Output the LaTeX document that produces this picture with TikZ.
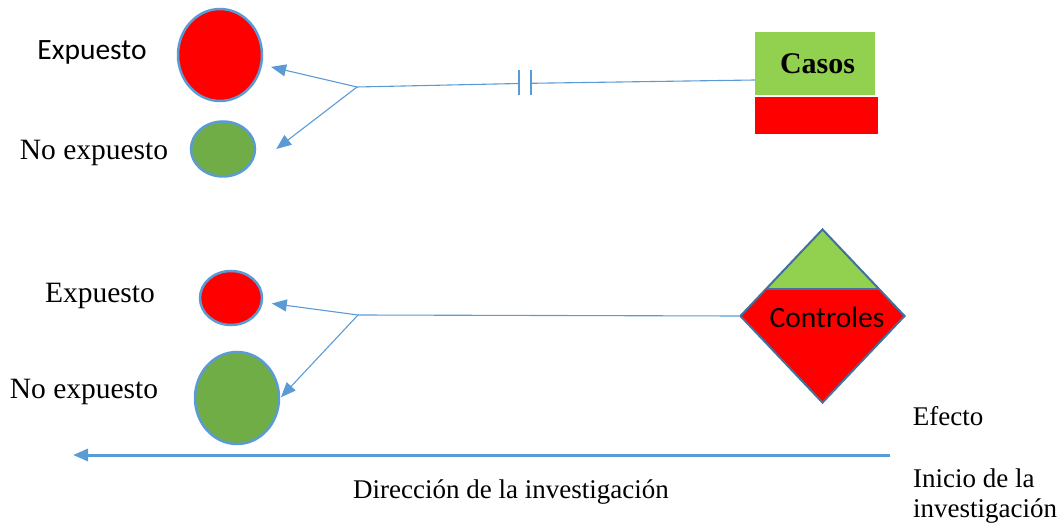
\documentclass[tikz,border=0pt]{standalone}
\usepackage{fontspec}
\setmainfont{Liberation Serif}
\newfontfamily\calib{Carlito}
\usetikzlibrary{shapes.geometric,arrows.meta}
\definecolor{lblue}{HTML}{5B9BD5}
\definecolor{dblue}{HTML}{41719C}
\definecolor{gdark}{HTML}{70AD47}
\definecolor{glight}{HTML}{92D050}
\definecolor{rred}{HTML}{FF0000}
\tikzset{
  blob/.style={ellipse, draw=lblue, line width=2.5pt, inner sep=0pt},
  conn/.style={draw=lblue, line width=1.1pt},
  arr/.style={conn, -{Triangle[length=15pt,width=12pt]}, shorten >=9pt},
  lbl/.style={font=\fontsize{27}{32}\selectfont, inner sep=0pt},
  nlbl/.style={font=\fontsize{29.5}{34}\selectfont, inner sep=0pt},
  slbl/.style={font=\calib\fontsize{29.5}{34}\selectfont, inner sep=0pt},
}
\begin{document}
\begin{tikzpicture}[x=1pt,y=-1pt]
\useasboundingbox (0,0) rectangle (1059,526);
% top group
\node[blob, fill=rred, minimum width=84pt, minimum height=92pt] (e1) at (220,55) {};
\node[blob, fill=gdark, minimum width=64pt, minimum height=55pt] (e2) at (223,149) {};
\node[slbl] (t1) at (92,52) {Expuesto};
\node[nlbl] (t2) at (94,153) {No expuesto};
\coordinate (j1) at (357,87);
\draw[arr] (j1) -- (e1);
\draw[arr, shorten >=0pt] (j1) -- ([xshift=20pt]e2.east);
\coordinate (b1) at (519,83.5);
\coordinate (b2) at (531,83.3);
\coordinate (c1) at (755,80);
\draw[conn] (j1) -- (b1);
\draw[conn] (b2) -- (c1);
\draw[conn] ([yshift=-12pt]b1) -- ([yshift=13pt]b1);
\draw[conn] ([yshift=-12pt]b2) -- ([yshift=13pt]b2);
\node[fill=glight, minimum width=120pt, minimum height=63pt, inner sep=0pt,
      font=\bfseries\fontsize{30}{34}\selectfont] (casos) at (815,63.5) {\hspace*{5pt}Casos};
\node[fill=rred, minimum width=123pt, minimum height=37pt, inner sep=0pt] (casosr) at (816.5,115.5) {};
% bottom group
\node[blob, fill=rred, minimum width=62pt, minimum height=54pt] (e3) at (231,298) {};
\node[blob, fill=gdark, minimum width=84pt, minimum height=92pt] (e4) at (237,398) {};
\node[nlbl] (t3) at (100,296) {Expuesto};
\node[nlbl] (t4) at (84,392) {No expuesto};
\coordinate (j2) at (358,315);
\node[diamond, draw=dblue, line width=2pt, fill=rred, inner sep=0pt,
      minimum width=165pt, minimum height=174pt,
      path picture={
        \fill[glight] (path picture bounding box.north west) rectangle ([yshift=-60pt]path picture bounding box.north east);
        \draw[dblue, line width=2pt] ([yshift=-60pt]path picture bounding box.north west) -- ([yshift=-60pt]path picture bounding box.north east);
      }] (ctrl) at (822.5,316) {};
\node[slbl] (ctext) at (827,317) {Controles};
\draw[arr] (j2) -- (e3);
\draw[arr, shorten >=1pt] (j2) -- (e4.east);
\draw[conn] (j2) -- (ctrl.west);
% bottom axis
\node[lbl] (eff) at (948,416) {Efecto};
\coordinate (s) at (890,455);
\coordinate (f) at (73,455);
\draw[draw=lblue, line width=3pt, -{Triangle[length=15pt,width=12pt]}] (s) -- (f);
\node[lbl] (dir) at (511,492) {Dirección de la investigación};
\node[font=\fontsize{27}{30}\selectfont, inner sep=0pt, anchor=north west, align=left] (ini) at (913,469) {Inicio de la\\investigación};
\end{tikzpicture}
\end{document}
